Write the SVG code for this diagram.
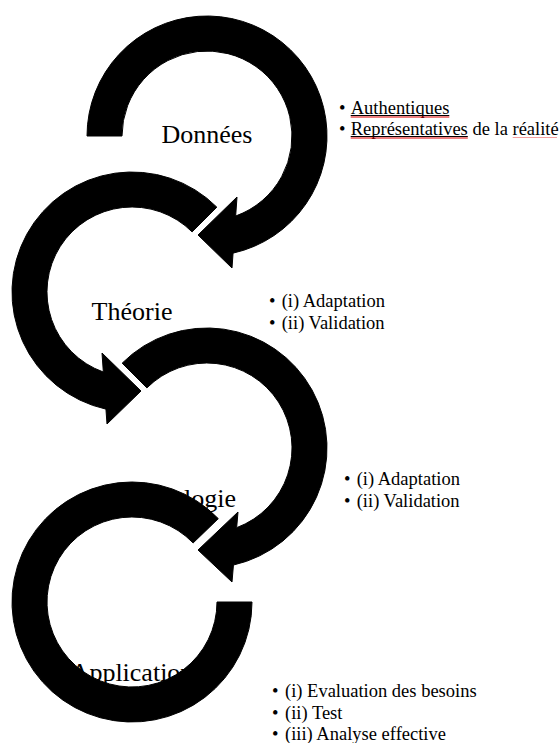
<svg xmlns="http://www.w3.org/2000/svg" width="560" height="743" viewBox="0 0 560 743">
<style>
.arrow{fill:#000;stroke:#000;stroke-width:1;stroke-linejoin:round}
.title{font-family:"Liberation Serif","Times New Roman",serif;font-size:26px;fill:#000}
.bul{font-family:"Liberation Serif","Times New Roman",serif;font-size:18.5px;fill:#000}
.ul{stroke:#000;stroke-width:1}
.sp{stroke:#d00;stroke-width:1}
.spl{stroke:#f4a0a0;stroke-width:1}
</style>
<rect width="560" height="743" fill="#fff"/>
<g id="node-donnees">
<text class="title" x="207" y="143" text-anchor="middle">Données</text>
<path class="arrow" d="M 87,136 A 120,120 0 1,1 233.05,253.14 L 232,268 L 198,235 L 237,197 L 235.66,216.02 A 85,85 0 1,0 122,136 Z"/>
<text class="bul" y="113.5"><tspan x="339">•</tspan><tspan x="350.7">Authentiques</tspan></text>
<text class="bul" y="134.5"><tspan x="339">•</tspan><tspan x="350.7">Représentatives de la réalité</tspan></text>
<line class="ul" x1="350.7" y1="115.5" x2="449.3" y2="115.5"/>
<line class="sp" x1="350.7" y1="117" x2="449.3" y2="117"/>
<line class="ul" x1="350.7" y1="136.5" x2="467.8" y2="136.5"/>
<line class="sp" x1="350.7" y1="138" x2="467.8" y2="138"/>
<line class="spl" x1="512.7" y1="137.5" x2="557" y2="137.5"/>
</g>
<g id="node-theorie">
<text class="title" x="132" y="320" text-anchor="middle">Théorie</text>
<path class="arrow" d="M 216.85,207.15 A 120,120 0 1,0 105.95,409.14 L 107,424 L 141,391 L 102,353 L 103.34,372.02 A 85,85 0 1,1 192.1,231.9 Z"/>
<text class="bul" y="306.5"><tspan x="269">•</tspan><tspan x="281.7">(i) Adaptation</tspan></text>
<text class="bul" y="328.5"><tspan x="269">•</tspan><tspan x="281.7">(ii) Validation</tspan></text>
</g>
<g id="node-methodologie">
<text class="title" x="163" y="507" text-anchor="middle">Méthodologie</text>
<path class="arrow" d="M 122.15,363.15 A 120,120 0 1,1 233.45,565.05 L 232,582 L 198,550 L 238,512 L 236.66,527.66 A 85,85 0 1,0 146.9,387.9 Z"/>
<text class="bul" y="484.5"><tspan x="344">•</tspan><tspan x="356.7">(i) Adaptation</tspan></text>
<text class="bul" y="506.5"><tspan x="344">•</tspan><tspan x="356.7">(ii) Validation</tspan></text>
</g>
<g id="node-application">
<text class="title" x="132" y="681" text-anchor="middle">Application</text>
<path class="arrow" d="M 252,602 A 120,120 0 1,1 218.32,518.64 L 193.14,542.95 A 85,85 0 1,0 217,602 Z"/>
<text class="bul" y="697"><tspan x="272">•</tspan><tspan x="285">(i) Evaluation des besoins</tspan></text>
<text class="bul" y="718.5"><tspan x="272">•</tspan><tspan x="285">(ii) Test</tspan></text>
<text class="bul" y="740"><tspan x="272">•</tspan><tspan x="285">(iii) Analyse effective</tspan></text>
</g>
<g id="connectors"/>
</svg>
